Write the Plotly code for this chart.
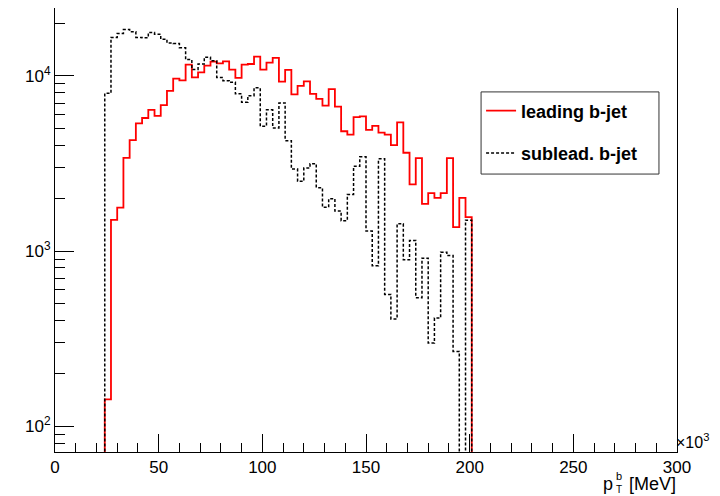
import numpy as np
import plotly.graph_objects as go

# ---- data (histogram contents, bins of 3 x10^3 MeV starting at 24 x10^3 MeV) ----
bin_start = 24
bin_width = 3
leading = [142, 1507, 1767, 3400, 4300, 5360, 5750, 6400, 5910, 6820, 8210, 9650, 9440, 11600,
           9820, 10490, 11450, 12060, 11800, 12120, 10860, 9750, 11590, 11700, 12890, 10860, 11910,
           12680, 9280, 10840, 7850, 8780, 9310, 7890, 7390, 6770, 8400, 6680, 4830, 4620, 5810,
           5880, 4920, 5180, 4750, 4620, 4020, 5430, 3640, 2400, 3390, 1860, 2140, 2010, 2140,
           3390, 1370, 2010, 1560]
sublead = [7960, 16600, 17500, 18400, 17900, 16600, 16500, 17700, 17300, 16200, 15400, 15300,
           14500, 12400, 10900, 11700, 12800, 12200, 9800, 9400, 9200, 7900, 7070, 7710, 8550,
           5160, 6400, 5050, 7000, 4270, 2940, 2500, 2980, 3150, 2300, 1780, 1990, 1690, 1490,
           2100, 3050, 3450, 1300, 824, 3360, 565, 409, 1430, 891, 1148, 541, 910, 298, 414, 984,
           942, 267, 0, 1500]
series_names = ["leading b-jet", "sublead. b-jet"]
x_ticks = [0, 50, 100, 150, 200, 250, 300]
y_ticks = [100, 1000, 10000]
y_ticktext = ["10<sup>2</sup>", "10<sup>3</sup>", "10<sup>4</sup>"]

FONT = "Liberation Sans, Arial, Helvetica, sans-serif"
EMPTY = 1e-3  # empty bins drawn below the axis floor (clipped)


def step_xy(counts):
    edges = bin_start + bin_width * np.arange(len(counts) + 1)
    c = [v if v > 0 else EMPTY for v in counts]
    x = [edges[0]] + list(edges[:-1]) + [edges[-1], edges[-1]]
    y = [EMPTY] + c + [c[-1], EMPTY]
    return x, y


fig = go.Figure()
xr, yr = step_xy(leading)
fig.add_trace(go.Scatter(x=xr, y=yr, mode="lines", line_shape="hv",
                         line=dict(color="#ff0000", width=1.8),
                         name=series_names[0], legendgroup="a"))
xb, yb = step_xy(sublead)
fig.add_trace(go.Scatter(x=xb, y=yb, mode="lines", line_shape="hv",
                         line=dict(color="#000000", width=1.5, dash="3px,2px"),
                         name=series_names[1], legendgroup="b"))

minor_y = [m * 10 ** k for k in range(1, 5) for m in range(2, 10)]

fig.update_layout(
    width=712, height=488,
    margin=dict(l=47, r=43, t=0, b=44),
    paper_bgcolor="white", plot_bgcolor="white",
    font=dict(family=FONT, size=17, color="black"),
    showlegend=True,
    legend=dict(x=0.685, y=0.81, xanchor="left", yanchor="top",
                bgcolor="rgba(0,0,0,0)", borderwidth=0,
                font=dict(family=FONT, size=18, color="black", weight="bold"),
                traceorder="grouped", tracegroupgap=16),
    xaxis=dict(range=[0, 300], tickmode="array", tickvals=x_ticks,
               ticks="inside", ticklen=18, tickcolor="black",
               minor=dict(ticks="inside", dtick=10, tick0=0, ticklen=9, tickcolor="black"),
               showline=True, mirror=True, linecolor="black", linewidth=1,
               showgrid=False, zeroline=False,
               tickfont=dict(family=FONT, size=17, color="black")),
    yaxis=dict(type="log", range=[1.852, 4.388], tickmode="array",
               tickvals=y_ticks, ticktext=y_ticktext,
               ticks="inside", ticklen=19, tickcolor="black",
               minor=dict(ticks="inside", tickmode="array", tickvals=minor_y,
                          ticklen=10, tickcolor="black"),
               showline=True, mirror=True, linecolor="black", linewidth=1,
               showgrid=False, zeroline=False,
               tickfont=dict(family=FONT, size=17, color="black")),
)

# legend frame
fig.add_shape(type="rect", xref="paper", yref="paper", x0=0.685, x1=0.971, y0=0.626, y1=0.811,
              line=dict(color="#333333", width=1), fillcolor="white", layer="above")

fig.add_annotation(text="×10<sup>3</sup>", xref="paper", yref="paper", x=1.0, y=0.0,
                   xanchor="left", yanchor="bottom", xshift=-2, showarrow=False, borderpad=0,
                   font=dict(family=FONT, size=16, color="black"))
# axis title p_T^b [MeV] (sub- and superscript stacked as in ROOT)
TY = -0.073
fig.add_annotation(text="[MeV]", xref="paper", yref="paper", x=1.0, y=TY,
                   xanchor="right", yanchor="middle", showarrow=False, borderpad=0,
                   font=dict(family=FONT, size=18, color="black"))
fig.add_annotation(text="p", xref="paper", yref="paper", x=1.0, y=TY,
                   xanchor="right", yanchor="middle", xshift=-63, showarrow=False, borderpad=0,
                   font=dict(family=FONT, size=18, color="black"))
fig.add_annotation(text="b", xref="paper", yref="paper", x=1.0, y=TY,
                   xanchor="right", yanchor="middle", xshift=-54, yshift=8, showarrow=False,
                   borderpad=0, font=dict(family=FONT, size=11, color="black"))
fig.add_annotation(text="T", xref="paper", yref="paper", x=1.0, y=TY,
                   xanchor="right", yanchor="middle", xshift=-54, yshift=-5, showarrow=False,
                   borderpad=0, font=dict(family=FONT, size=10, color="black"))

fig.write_html("out.html")
